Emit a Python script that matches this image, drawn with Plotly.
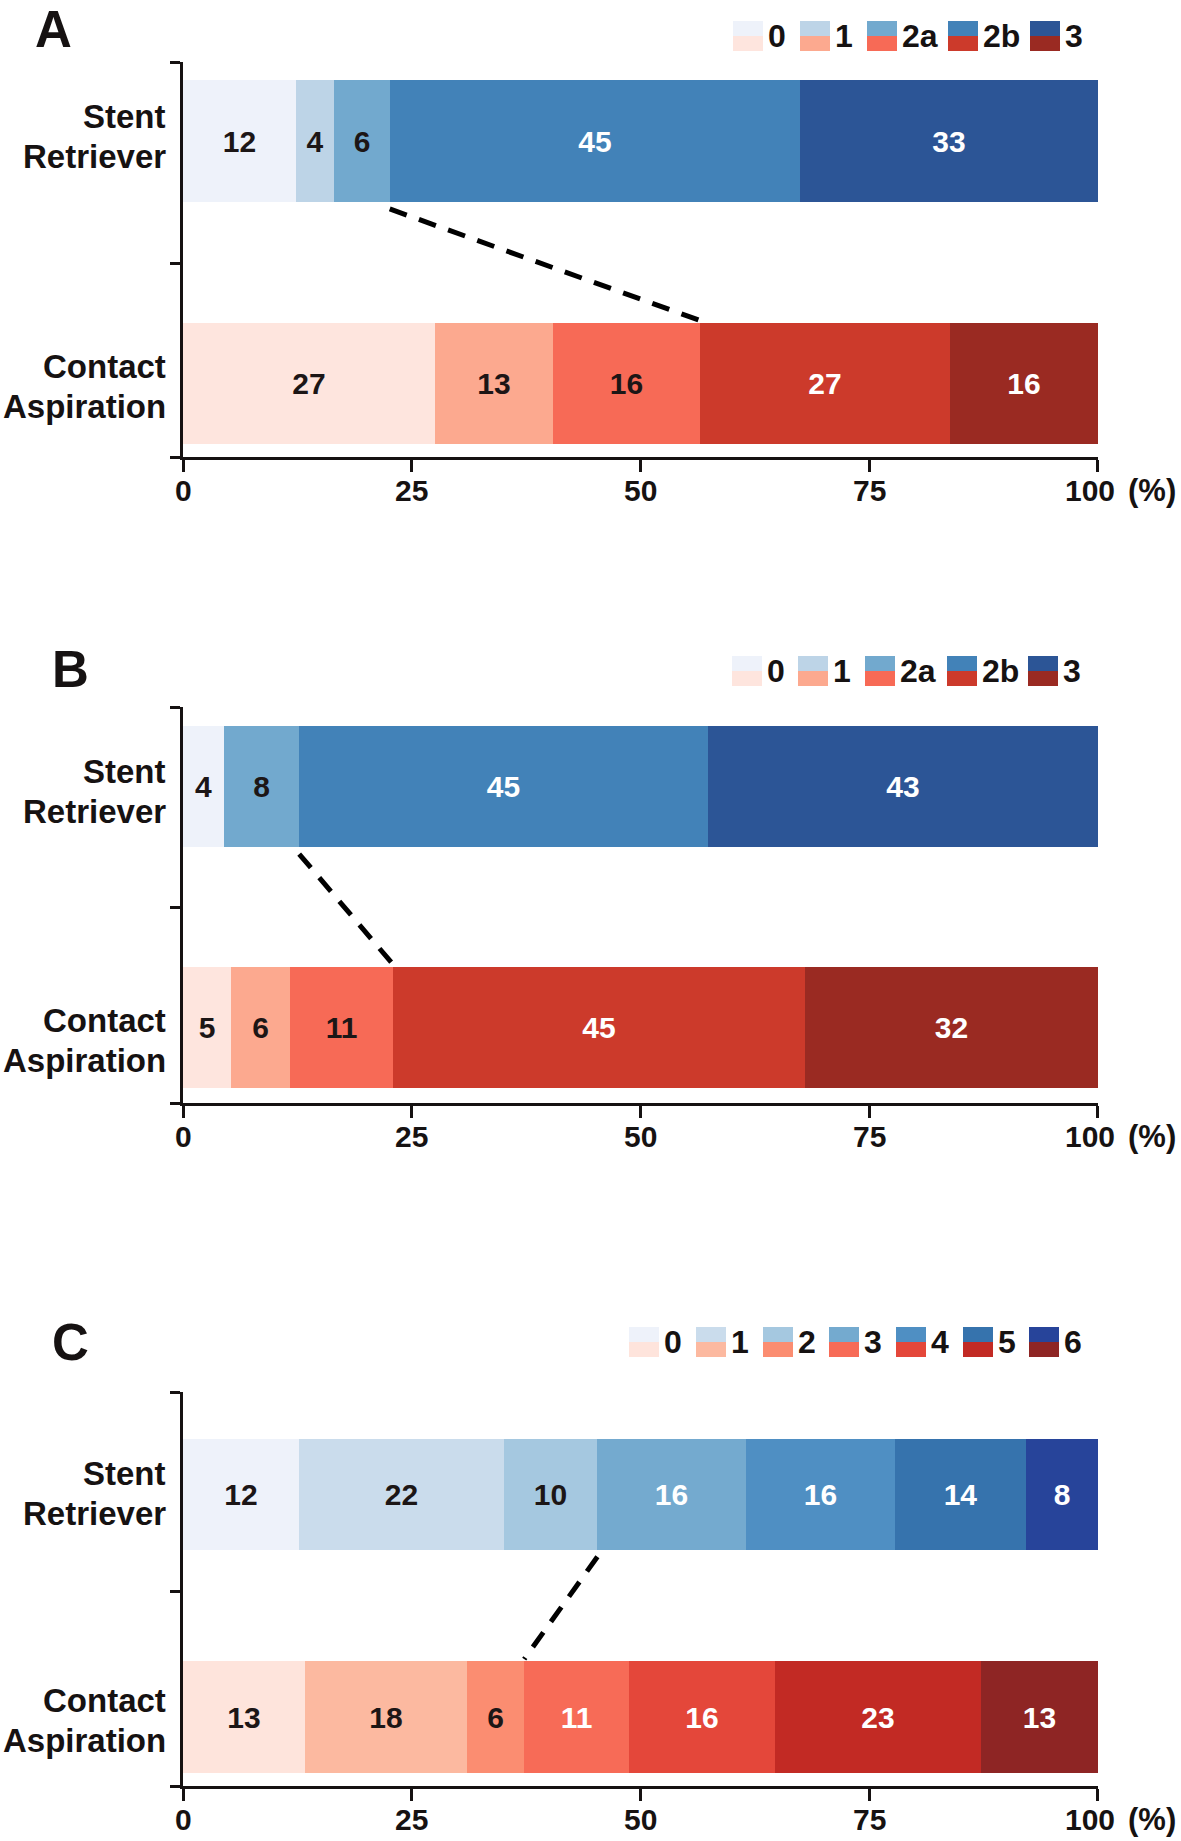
import plotly.graph_objects as go

# ---------------- data ----------------
group_lines = [["Contact", "Aspiration"], ["Stent", "Retriever"]]

A_categories = ["0", "1", "2a", "2b", "3"]
A_stent = [12.4, 4.1, 6.1, 44.8, 32.6]
A_stent_labels = ["12", "4", "6", "45", "33"]
A_contact = [27.6, 12.8, 16.1, 27.3, 16.2]
A_contact_labels = ["27", "13", "16", "27", "16"]

B_categories = ["0", "1", "2a", "2b", "3"]
B_stent = [4.5, 0.0, 8.2, 44.7, 42.6]
B_stent_labels = ["4", "", "8", "45", "43"]
B_contact = [5.3, 6.4, 11.3, 45.0, 32.0]
B_contact_labels = ["5", "6", "11", "45", "32"]

C_categories = ["0", "1", "2", "3", "4", "5", "6"]
C_stent = [12.7, 22.4, 10.2, 16.2, 16.3, 14.3, 7.9]
C_stent_labels = ["12", "22", "10", "16", "16", "14", "8"]
C_contact = [13.3, 17.7, 6.3, 11.4, 16.0, 22.5, 12.8]
C_contact_labels = ["13", "18", "6", "11", "16", "23", "13"]

x_ticks = [0, 25, 50, 75, 100]
x_ticktext = ["0", "25", "50", "75", "100"]

# ---------------- styles ----------------
W, H = 1181, 1841
FONT = "Liberation Sans, Arial, sans-serif"
INK = "#161212"
DARK_TXT = "#1c1616"

blue5 = ["#eef2fa", "#bdd4e7", "#72a9ce", "#4282b8", "#2c5596"]
red5 = ["#fee5de", "#fca98f", "#f76a56", "#cc3a2b", "#9a2a22"]
blue7 = ["#eef2fa", "#cadcec", "#a5c8e0", "#74aacf", "#4f8fc3", "#3673ad", "#27449a"]
red7 = ["#fee4dc", "#fcb9a0", "#fb8d71", "#f76b57", "#e4473a", "#c22a24", "#8e2524"]

panels = [
    dict(name="A", cats=A_categories, sr=A_stent, srl=A_stent_labels, ca=A_contact, cal=A_contact_labels,
         blues=blue5, reds=red5, n_dark=3, link=2,
         top=62, bottom=457, lo=-0.303, hi=1.326, mid=0.497,
         label_shift=[-3, 4.5],
         letter_xy=(53, 30), legend_y=36, legend_x=[733, 800, 867, 948, 1030]),
    dict(name="B", cats=B_categories, sr=B_stent, srl=B_stent_labels, ca=B_contact, cal=B_contact_labels,
         blues=blue5, reds=red5, n_dark=3, link=2,
         top=707, bottom=1103, lo=-0.313, hi=1.33, mid=0.5,
         label_shift=[-13, -5],
         letter_xy=(70, 669), legend_y=671, legend_x=[732, 798, 865, 947, 1028]),
    dict(name="C", cats=C_categories, sr=C_stent, srl=C_stent_labels, ca=C_contact, cal=C_contact_labels,
         blues=blue7, reds=red7, n_dark=3, link=2,
         top=1392, bottom=1786, lo=-0.31, hi=1.46, mid=0.562,
         label_shift=[-3.5, 1],
         letter_xy=(70, 1342), legend_y=1342, legend_x=[629, 696, 763, 829, 896, 963, 1029]),
]

X0, X1 = 183, 1098

def px(x):
    return x / W

def py(y):
    return 1 - y / H

fig = go.Figure()
shapes = []
annotations = []
layout_axes = {}

for i, p in enumerate(panels, start=1):
    xa = "x" if i == 1 else f"x{i}"
    ya = "y" if i == 1 else f"y{i}"
    n = len(p["cats"])
    for k in range(n):
        col_txt = DARK_TXT if k < p["n_dark"] else "white"
        fig.add_trace(go.Bar(
            orientation="h",
            y=[0, 1],
            x=[p["ca"][k], p["sr"][k]],
            text=[p["cal"][k], p["srl"][k]],
            textposition="inside",
            insidetextanchor="middle",
            textangle=0,
            constraintext="none",
            textfont=dict(family=FONT, size=30, color=col_txt, weight="bold"),
            marker=dict(color=[p["reds"][k], p["blues"][k]], line=dict(width=0)),
            width=0.5,
            xaxis=xa, yaxis=ya,
            showlegend=False,
            hoverinfo="skip",
            cliponaxis=False,
        ))
    # dashed link between cumulative boundaries
    sr_cum = sum(p["sr"][: p["link"] + 1])
    ca_cum = sum(p["ca"][: p["link"] + 1])
    fig.add_trace(go.Scatter(
        x=[sr_cum, ca_cum], y=[1 - 0.25 - 0.03, 0.25 + 0.01],
        mode="lines", line=dict(color="black", width=5, dash="18px,13px"),
        xaxis=xa, yaxis=ya, showlegend=False, hoverinfo="skip",
    ))

    key = "" if i == 1 else str(i)
    layout_axes[f"xaxis{key}"] = dict(
        domain=[px(X0), px(X1)], range=[0, 100.02], anchor=ya,
        showline=True, linewidth=3, linecolor=INK, mirror=False,
        ticks="outside", ticklen=12, tickwidth=3, tickcolor=INK,
        tickmode="array", tickvals=x_ticks,
        showticklabels=False,
        showgrid=False, zeroline=False, fixedrange=True,
    )
    layout_axes[f"yaxis{key}"] = dict(
        domain=[py(p["bottom"]), py(p["top"])], range=[p["lo"], p["hi"]], anchor=xa,
        showline=True, linewidth=3, linecolor=INK,
        ticks="outside", ticklen=10, tickwidth=3, tickcolor=INK,
        tickmode="array", tickvals=[p["lo"], p["mid"], p["hi"]],
        showticklabels=False, showgrid=False, zeroline=False, fixedrange=True,
    )

    # x tick labels
    for tv, tt in zip(x_ticks, x_ticktext):
        annotations.append(dict(
            x=tv, xref=xa, y=py(p["bottom"] + 33), yref="paper",
            xanchor="center", yanchor="middle", text=tt, showarrow=False,
            xshift=-8 if tv == 100 else 0,
            font=dict(family=FONT, size=30, color=INK, weight="bold"),
        ))
    # "(%)" unit
    annotations.append(dict(
        x=px(1126), xref="paper", y=py(p["bottom"] + 33), yref="paper",
        xanchor="left", yanchor="middle", text="(%)", showarrow=False,
        font=dict(family=FONT, size=31, color=INK, weight="bold"),
    ))

    # category labels (two lines each)
    for gy, lines in enumerate(group_lines):
        c = p["label_shift"][gy]
        for li, (txt, off) in enumerate(zip(lines, [20, -20])):
            annotations.append(dict(
                x=px(168), xref="paper", y=gy, yref=ya, xanchor="right", yanchor="middle",
                yshift=off + c,
                text=txt, align="right", showarrow=False,
                font=dict(family=FONT, size=33, color=INK, weight="bold"),
            ))
    # panel letter
    lx, ly = p["letter_xy"]
    annotations.append(dict(
        x=px(lx), xref="paper", y=py(ly), yref="paper",
        xanchor="center", yanchor="middle", text=p["name"], showarrow=False,
        font=dict(family=FONT, size=51, color=INK, weight="bold"),
    ))
    # split legend
    cy = p["legend_y"]
    for k, cat in enumerate(p["cats"]):
        sx = p["legend_x"][k]
        shapes.append(dict(type="rect", xref="paper", yref="paper",
                           x0=px(sx), x1=px(sx + 30), y0=py(cy), y1=py(cy - 15),
                           fillcolor=p["blues"][k], line=dict(width=0)))
        shapes.append(dict(type="rect", xref="paper", yref="paper",
                           x0=px(sx), x1=px(sx + 30), y0=py(cy + 15), y1=py(cy),
                           fillcolor=p["reds"][k], line=dict(width=0)))
        annotations.append(dict(
            x=px(sx + 33), xref="paper", y=py(cy), yref="paper",
            xanchor="left", yanchor="middle", text=cat, showarrow=False,
            font=dict(family=FONT, size=32, color=INK, weight="bold"),
        ))

fig.update_layout(
    width=W, height=H,
    margin=dict(l=0, r=0, t=0, b=0),
    paper_bgcolor="white", plot_bgcolor="white",
    barmode="stack", bargap=0,
    shapes=shapes, annotations=annotations,
    showlegend=False,
    font=dict(family=FONT, color=INK),
    **layout_axes,
)

fig.write_html(
    "out.html",
    config={"displayModeBar": False},
    post_script="document.body.style.margin='0';document.body.style.padding='0';"
                "document.documentElement.style.overflow='hidden';",
)
